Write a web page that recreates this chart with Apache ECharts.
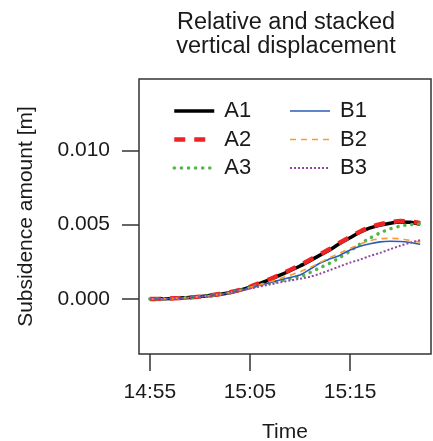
<!DOCTYPE html>
<html>
<head>
<meta charset="utf-8">
<script src="https://cdn.jsdelivr.net/npm/echarts@6/dist/echarts.min.js"></script>
<style>
html,body{margin:0;padding:0;background:#fff;}
#chart{width:433px;height:441px;}
</style>
</head>
<body>
<div id="chart"></div>
<script>
// minutes after 14:55
const minutes = [0,1,2,3,4,5,6,7,8,9,10,11,12,13,14,15,16,17,18,19,20,21,22,23,24,25,26,27];
const startHour = 14, startMinute = 55;
// subsidence amount [m]
const A1 = [0,0.00001,0.00003,0.00006,0.0001,0.00016,0.00023,0.00032,0.00044,0.0006,0.0008,0.00105,0.0013,0.0016,0.0019,0.00222,0.00258,0.00295,0.00332,0.00375,0.00412,0.0045,0.00478,0.00497,0.0051,0.00518,0.00516,0.00502];
const A2 = [0,0.00001,0.00003,0.00006,0.0001,0.00016,0.00023,0.00033,0.00045,0.00061,0.00082,0.00108,0.00134,0.00164,0.00195,0.00228,0.00264,0.003,0.00338,0.0038,0.00417,0.00454,0.00483,0.00503,0.00516,0.00524,0.00522,0.0051];
const A3 = [0,0.00001,0.00003,0.00006,0.0001,0.00016,0.00023,0.00032,0.00043,0.00058,0.00076,0.00094,0.00108,0.00122,0.00136,0.0015,0.00178,0.0021,0.00242,0.0028,0.00322,0.0037,0.0041,0.00445,0.00472,0.0049,0.005,0.00505];
const B1 = [0,0.00001,0.00003,0.00006,0.0001,0.00016,0.00023,0.00032,0.00043,0.00058,0.00076,0.00092,0.0011,0.00128,0.00145,0.00162,0.002,0.00242,0.0027,0.00295,0.0033,0.00355,0.00372,0.00384,0.00388,0.00387,0.0038,0.00368];
const B2 = [0,0.00001,0.00003,0.00006,0.0001,0.00016,0.00023,0.00032,0.00043,0.00058,0.00078,0.00096,0.00116,0.00138,0.0016,0.00183,0.00212,0.00245,0.0028,0.0031,0.0034,0.0037,0.00392,0.00405,0.00408,0.00405,0.00395,0.00382];
const B3 = [0,0.00001,0.00003,0.00006,0.0001,0.00015,0.00022,0.0003,0.00042,0.00055,0.0007,0.00084,0.00098,0.00112,0.00124,0.00136,0.0015,0.0017,0.00195,0.0022,0.00245,0.00265,0.0029,0.0031,0.00335,0.00358,0.00378,0.00395];
const xTicks = [0,10,20];
const yTicks = [0,0.005,0.010];
const titleText = 'Relative and stacked\nvertical displacement';

const FONT = 'Liberation Sans, Arial, Helvetica, sans-serif';
function pair(vals){ return minutes.map((m,i)=>[m, vals[i]]); }
function fmtTime(v){
  const total = startHour*60 + startMinute + Math.round(v);
  const h = Math.floor(total/60), m = total%60;
  return h + ':' + (m<10?'0':'') + m;
}
const seriesDefs = [
  {name:'A1', data:A1, color:'#000000', width:3.5, type:'solid', cap:'butt'},
  {name:'A2', data:A2, color:'#ee2424', width:4.5, type:[11,9], cap:'butt'},
  {name:'A3', data:A3, color:'#4fb847', width:3.5, type:[0.1,7], cap:'round'},
  {name:'B1', data:B1, color:'#2a5cbc', width:1.6, type:'solid', cap:'butt'},
  {name:'B2', data:B2, color:'#ff9a26', width:1.6, type:[6,5], cap:'butt'},
  {name:'B3', data:B3, color:'#9248a0', width:2, type:[2,2], cap:'butt'}
];
function legendData(names){
  return names.map(n=>{
    const s = seriesDefs.find(d=>d.name===n);
    return {name:n, lineStyle:{color:s.color, width:s.width, type:s.type, cap:s.cap}};
  });
}

const legendCommon = {
  orient:'vertical', top:95, itemWidth:40, itemHeight:20, itemGap:6.5,
  itemStyle:{opacity:0},
  textStyle:{fontFamily:FONT, fontSize:22, color:'#1a1a1a', padding:[0,0,0,5]}
};

const chart = echarts.init(document.getElementById('chart'), null, {renderer:'canvas'});
const option = {
  animation:false,
  backgroundColor:'#ffffff',
  title:{
    text:titleText,
    left:281, top:5, textAlign:'center',
    textStyle:{fontFamily:FONT, fontSize:23.5, fontWeight:'normal', color:'#1a1a1a', lineHeight:24.5}
  },
  legend:[
    Object.assign({data:legendData(['A1','A2','A3']), left:167}, legendCommon),
    Object.assign({data:legendData(['B1','B2','B3']), left:284}, legendCommon)
  ],
  grid:{left:139, top:79, right:2, bottom:87, outerBoundsMode:'none', containLabel:false,
        show:true, borderColor:'#333333', borderWidth:1.5, backgroundColor:'transparent'},
  xAxis:{
    type:'value', min:-1.08, max:28.08,
    name:'Time', nameLocation:'middle', nameGap:68,
    nameTextStyle:{fontFamily:FONT, fontSize:21, color:'#1a1a1a'},
    axisLine:{show:false, onZero:false},
    axisTick:{show:true, length:17, inside:false, customValues:xTicks, lineStyle:{color:'#333333', width:1.5}},
    axisLabel:{show:true, margin:28, customValues:xTicks, formatter:fmtTime, fontFamily:FONT, fontSize:21, color:'#1a1a1a'},
    splitLine:{show:false}
  },
  yAxis:{
    type:'value', min:-0.0037, max:0.0148,
    name:'Subsidence amount [m]', nameLocation:'middle', nameGap:102,
    nameTextStyle:{fontFamily:FONT, fontSize:21, color:'#1a1a1a'},
    axisLine:{show:false, onZero:false},
    axisTick:{show:true, length:17, inside:false, customValues:yTicks, lineStyle:{color:'#333333', width:1.5}},
    axisLabel:{show:true, margin:29, customValues:yTicks, formatter:v=>v.toFixed(3), fontFamily:FONT, fontSize:21, color:'#1a1a1a'},
    splitLine:{show:false}
  },
  series:seriesDefs.map(s=>({
    name:s.name, type:'line', data:pair(s.data), smooth:0.3, symbol:'none', showSymbol:false,
    itemStyle:{color:s.color},
    lineStyle:{color:s.color, width:s.width, type:s.type, cap:s.cap}
  }))
};
chart.setOption(option);
</script>
</body>
</html>
